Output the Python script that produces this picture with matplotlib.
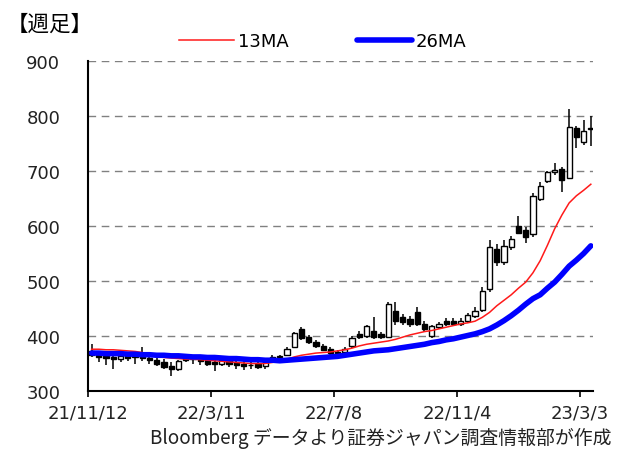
import matplotlib
matplotlib.use("Agg")
import matplotlib.pyplot as plt
import numpy as np

plt.rcParams["font.family"] = ["DejaVu Sans", "Noto Sans CJK JP"]

# weekly candles (open, high, low, close), 21/11/12 .. 23/3
opens  = [372, 366, 363, 361, 358, 364, 361, 363, 360, 357,
          352, 346, 340, 362, 358, 360, 356, 352, 350, 356,
          351, 349, 347, 349, 345, 358, 362, 366, 380, 412,
          398, 389, 382, 376, 371, 371, 382, 404, 400, 409,
          404, 398, 445, 434, 431, 444, 422, 400, 416, 427,
          428, 422, 428, 437, 448, 485, 558, 534, 562, 600,
          592, 585, 650, 682, 698, 704, 688, 778, 752, 776]
highs  = [385, 370, 368, 366, 366, 367, 367, 380, 364, 362,
          358, 352, 356, 366, 364, 365, 360, 358, 360, 360,
          356, 354, 352, 354, 354, 366, 366, 380, 408, 416,
          402, 393, 386, 380, 374, 380, 400, 410, 420, 434,
          408, 462, 462, 440, 436, 453, 428, 420, 426, 432,
          432, 432, 442, 452, 490, 575, 568, 575, 582, 618,
          598, 660, 680, 700, 715, 708, 812, 782, 792, 800]
lows   = [362, 352, 348, 340, 352, 355, 350, 355, 350, 345,
          340, 328, 336, 352, 350, 348, 345, 336, 346, 344,
          340, 338, 340, 340, 340, 352, 358, 364, 378, 392,
          386, 378, 372, 366, 363, 368, 378, 395, 396, 395,
          394, 396, 420, 420, 416, 418, 408, 396, 412, 418,
          418, 418, 424, 432, 444, 480, 528, 530, 556, 585,
          570, 580, 645, 678, 692, 662, 685, 742, 748, 745]
closes = [366, 362, 360, 358, 364, 360, 363, 360, 356, 350,
          344, 340, 354, 356, 361, 354, 350, 350, 356, 350,
          348, 346, 348, 344, 352, 362, 364, 377, 406, 396,
          389, 381, 374, 369, 370, 376, 397, 399, 418, 398,
          398, 458, 427, 425, 422, 422, 413, 418, 422, 422,
          422, 428, 438, 446, 482, 562, 534, 563, 577, 588,
          580, 655, 673, 698, 702, 684, 780, 762, 772, 778]

ma13 = [376, 376, 375, 375, 374, 373, 372, 370, 366, 363,
        361, 360, 359, 358, 358, 357, 356, 355, 354, 353,
        352, 351, 350, 350, 350, 352, 355, 358, 362, 365,
        367, 369, 370, 371, 373, 375, 378, 382, 385, 387,
        389, 391, 394, 398, 402, 405, 408, 410, 413, 416,
        419, 422, 424, 427, 434, 443, 455, 465, 475, 487,
        498, 515, 537, 565, 595, 620, 642, 655, 665, 676]
ma26 = [369, 369, 368, 368, 368, 367, 367, 366, 366, 365,
        365, 364, 364, 363, 362, 362, 361, 361, 360, 359,
        359, 358, 357, 357, 356, 356, 355, 356, 357, 358,
        359, 360, 361, 362, 363, 365, 367, 369, 371, 373,
        374, 375, 377, 379, 381, 383, 385, 388, 390, 393,
        395, 398, 401, 404, 408, 413, 420, 428, 437, 447,
        458, 468, 475, 487, 498, 512, 527, 538, 550, 564]

tick_pos = [0, 17, 34, 51, 68]
tick_labels = ["21/11/12", "22/3/11", "22/7/8", "22/11/4", "23/3/3"]

fig = plt.figure(figsize=(6.25, 4.52), dpi=100)
ax = fig.add_axes([0.1408, 0.1327, 0.808, 0.730])

x = np.arange(len(closes)) + 0.5
o = np.array(opens); c = np.array(closes)
up = c >= o

ax.vlines(x, lows, highs, color="black", linewidth=1.1, zorder=2)
bottom = np.minimum(o, c)
height = np.maximum(np.abs(c - o), 0.8)
ax.bar(x, height, bottom=bottom, width=0.72,
       color=np.where(up, "white", "black"), edgecolor="black",
       linewidth=1.0, zorder=3)

ax.plot(x, ma13, color="#FF1A1A", linewidth=1.1, zorder=4, label="13MA")
ax.plot(x, ma26, color="#0000FF", linewidth=4, zorder=5, label="26MA",
        solid_capstyle="round")

ax.set_xlim(0, 69.8)
ax.set_ylim(300, 900)
ax.set_yticks(range(300, 901, 100))
ax.set_xticks(tick_pos)
ax.set_xticklabels(tick_labels)
ax.tick_params(axis="x", direction="out", length=4, width=1.2, pad=5, labelsize=13)
ax.tick_params(axis="y", length=0, pad=20, labelsize=13)
for lab in ax.get_xticklabels() + ax.get_yticklabels():
    lab.set_color("#222222")

ax.grid(axis="y", color="#808080", linestyle=(0, (5.5, 4)), linewidth=1)
ax.set_axisbelow(True)
for s in ["top", "right"]:
    ax.spines[s].set_visible(False)
ax.spines["left"].set_linewidth(1.5)
ax.spines["bottom"].set_linewidth(1.5)

fig.legend(loc="center", bbox_to_anchor=(0.517, 0.906), ncol=2, frameon=False,
           fontsize=13, handlelength=3.0, handletextpad=0.25, columnspacing=3.8)

fig.text(0.010, 0.945, "【週足】", fontsize=15.5, va="center", ha="left",
         family=["Noto Sans CJK JP", "DejaVu Sans"])
fig.text(0.978, 0.030, "Bloomberg データより証券ジャパン調査情報部が作成",
         fontsize=13.6, va="center", ha="right", color="#222222",
         family=["Noto Sans CJK JP", "DejaVu Sans"])

fig.savefig("out.png", dpi=100)
